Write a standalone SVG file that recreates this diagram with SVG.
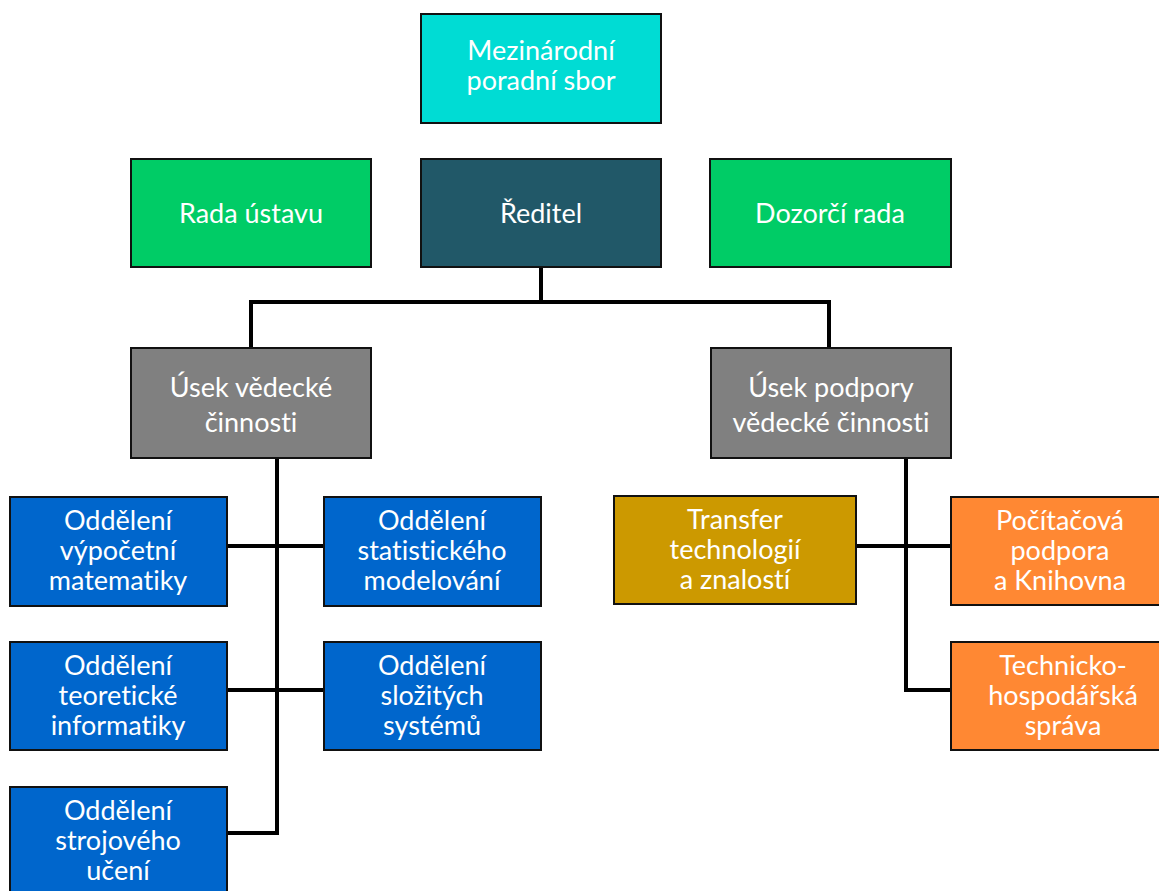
<svg xmlns="http://www.w3.org/2000/svg" width="1159" height="891" viewBox="0 0 1159 891">
<style>
.box{stroke:#111;stroke-width:2}
.t{font-family:Lato,"Open Sans","Liberation Sans",sans-serif;font-size:27px;fill:#fff;text-anchor:middle;font-variant-ligatures:none;font-feature-settings:"liga" 0,"dlig" 0}
.c{fill:none;stroke:#000;stroke-width:4}
</style>
<rect width="1159" height="891" fill="#fff"/>
<g id="connectors">
<path class="c" d="M541 267V302M251 348V302H829V348"/>
<path class="c" d="M277 458V833H227M227 546H324M227 690H324"/>
<path class="c" d="M906 458V690H951M856 546H951"/>
</g>
<g id="n-poradni"><rect class="box" x="421" y="14" width="240" height="109" fill="#00DCD4"/><text class="t" x="541" y="60">Mezinárodní</text><text class="t" x="541" y="90">poradní sbor</text></g>
<g id="n-rada"><rect class="box" x="131" y="159" width="240" height="108" fill="#00CC66"/><text class="t" x="251" y="223">Rada ústavu</text></g>
<g id="n-reditel"><rect class="box" x="421" y="159" width="240" height="108" fill="#215868"/><text class="t" x="541" y="223">Ředitel</text></g>
<g id="n-dozorci"><rect class="box" x="710" y="159" width="241" height="108" fill="#00CC66"/><text class="t" x="830" y="223">Dozorčí rada</text></g>
<g id="n-usek-v"><rect class="box" x="131" y="348" width="240" height="110" fill="#808080"/><text class="t" x="251" y="397">Úsek vědecké</text><text class="t" x="251" y="432">činnosti</text></g>
<g id="n-usek-p"><rect class="box" x="711" y="348" width="240" height="110" fill="#808080"/><text class="t" x="831" y="397">Úsek podpory</text><text class="t" x="831" y="432">vědecké činnosti</text></g>
<g id="n-vm"><rect class="box" x="10" y="497" width="217" height="109" fill="#0066CC"/><text class="t" x="118" y="530">Oddělení</text><text class="t" x="118" y="560">výpočetní</text><text class="t" x="118" y="590">matematiky</text></g>
<g id="n-sm"><rect class="box" x="324" y="497" width="217" height="109" fill="#0066CC"/><text class="t" x="432" y="530">Oddělení</text><text class="t" x="432" y="560">statistického</text><text class="t" x="432" y="590">modelování</text></g>
<g id="n-ti"><rect class="box" x="10" y="642" width="217" height="108" fill="#0066CC"/><text class="t" x="118" y="675">Oddělení</text><text class="t" x="118" y="705">teoretické</text><text class="t" x="118" y="735">informatiky</text></g>
<g id="n-ss"><rect class="box" x="324" y="642" width="217" height="108" fill="#0066CC"/><text class="t" x="432" y="675">Oddělení</text><text class="t" x="432" y="705">složitých</text><text class="t" x="432" y="735">systémů</text></g>
<g id="n-su"><rect class="box" x="10" y="787" width="217" height="110" fill="#0066CC"/><text class="t" x="118" y="820">Oddělení</text><text class="t" x="118" y="850">strojového</text><text class="t" x="118" y="880">učení</text></g>
<g id="n-transfer"><rect class="box" x="614" y="496" width="242" height="108" fill="#CC9900"/><text class="t" x="735" y="529">Transfer</text><text class="t" x="735" y="559">technologií</text><text class="t" x="735" y="589">a znalostí</text></g>
<g id="n-pc"><rect class="box" x="951" y="497" width="212" height="108" fill="#FF8833"/><text class="t" x="1060" y="530">Počítačová</text><text class="t" x="1060" y="560">podpora</text><text class="t" x="1060" y="590">a Knihovna</text></g>
<g id="n-ths"><rect class="box" x="951" y="642" width="212" height="108" fill="#FF8833"/><text class="t" x="1063" y="675">Technicko-</text><text class="t" x="1063" y="705">hospodářská</text><text class="t" x="1063" y="735">správa</text></g>
</svg>
